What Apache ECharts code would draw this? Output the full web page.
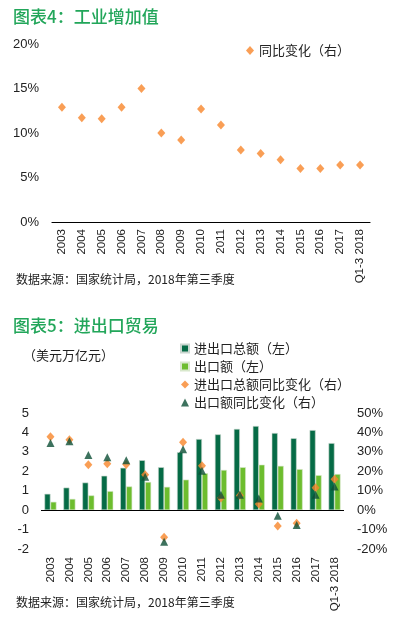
<!DOCTYPE html>
<html>
<head>
<meta charset="utf-8">
<script src="https://cdn.jsdelivr.net/npm/echarts@6/dist/echarts.min.js"></script>
<style>
html,body{margin:0;padding:0;background:#fff;}
#c{width:394px;height:618px;}
</style>
</head>
<body>
<div id="c"></div>
<script>
// ---- data ----
const categories = ['2003','2004','2005','2006','2007','2008','2009','2010','2011','2012','2013','2014','2015','2016','2017','Q1-3 2018'];
// Chart 4: industrial value added, YoY %
const ivaGrowth = [12.9, 11.7, 11.6, 12.9, 15.0, 10.0, 9.2, 12.7, 10.9, 8.1, 7.7, 7.0, 6.0, 6.0, 6.4, 6.4];
// Chart 5: trade, USD trillion
const tradeTotal = [0.84, 1.16, 1.42, 1.77, 2.18, 2.57, 2.21, 2.98, 3.66, 3.90, 4.18, 4.33, 3.97, 3.70, 4.12, 3.45];
const exportValue = [0.43, 0.58, 0.76, 0.98, 1.22, 1.45, 1.20, 1.57, 1.90, 2.07, 2.21, 2.34, 2.28, 2.11, 1.80, 1.86];
// YoY %
const tradeGrowth = [37.8, 36.2, 23.4, 23.9, 23.5, 18.2, -13.9, 35.0, 22.8, 6.2, 7.6, 3.2, -8.2, -6.8, 11.5, 15.9];
const exportGrowth = [34.6, 35.4, 28.4, 27.2, 25.7, 17.2, -16.3, 31.3, 20.3, 7.9, 7.9, 6.0, -2.9, -7.7, 7.9, 12.2];
const leftTicks = {min: -2, max: 5, interval: 1};
const rightTicks = {min: -20, max: 50, interval: 10};

// ---- style ----
const NUM_FONT = '"Liberation Sans Narrow", "Liberation Sans", sans-serif';
const CJK_FONT = '"Noto Sans CJK SC", sans-serif';
const TITLE_GREEN = '#22a65a';
const DARK = '#066b46';
const LIGHT = '#6dbd2e';
const ORANGE = '#f7862b';
const TRI = '#0c4f36';

const chart = echarts.init(document.getElementById('c'), null, {renderer: 'canvas'});

const zeroLine = {
  silent: true, symbol: 'none', label: {show: false},
  lineStyle: {color: '#000', width: 1.2, type: 'solid'},
  emphasis: {disabled: true},
  data: [{yAxis: 0}]
};

const option = {
  backgroundColor: '#fff',
  animation: false,
  textStyle: {fontFamily: CJK_FONT},
  graphic: [
    {type: 'text', x: 13, y: 17, style: {text: '图表4：工业增加值', font: '500 17px ' + CJK_FONT, fill: TITLE_GREEN, verticalAlign: 'middle'}},
    {type: 'text', x: 16, y: 279, style: {text: '数据来源：国家统计局，2018年第三季度', font: '12px ' + CJK_FONT, fill: '#222', verticalAlign: 'middle'}},
    {type: 'text', x: 13, y: 326, style: {text: '图表5：进出口贸易', font: '500 17px ' + CJK_FONT, fill: TITLE_GREEN, verticalAlign: 'middle'}},
    {type: 'text', x: 23, y: 355, style: {text: '（美元万亿元）', font: '13px ' + CJK_FONT, fill: '#222', verticalAlign: 'middle'}},
    {type: 'text', x: 16, y: 602, style: {text: '数据来源：国家统计局，2018年第三季度', font: '12px ' + CJK_FONT, fill: '#222', verticalAlign: 'middle'}}
  ],
  legend: [
    {
      left: 241, top: 39, itemWidth: 8, itemHeight: 9,
      textStyle: {fontSize: 13, color: '#222', fontFamily: CJK_FONT},
      data: [{name: '同比变化（右）', icon: 'diamond'}]
    },
    {
      orient: 'vertical', left: 175, top: 337, itemWidth: 8, itemHeight: 8, itemGap: 5,
      textStyle: {fontSize: 13, color: '#222', fontFamily: CJK_FONT},
      data: [
        {name: '进出口总额（左）', icon: 'rect'},
        {name: '出口额（左）', icon: 'rect'},
        {name: '进出口总额同比变化（右）', icon: 'diamond'},
        {name: '出口额同比变化（右）', icon: 'triangle'}
      ]
    }
  ],
  grid: [
    {left: 52, right: 24, top: 44, bottom: 396},
    {left: 41, right: 50, top: 413, bottom: 69}
  ],
  xAxis: [
    {
      gridIndex: 0, type: 'category', data: categories, boundaryGap: true,
      axisLine: {show: true, lineStyle: {color: '#000', width: 1.2}},
      axisTick: {show: false},
      axisLabel: {rotate: 90, margin: 7, fontSize: 11.5, color: '#222', fontFamily: NUM_FONT, interval: 0}
    },
    {
      gridIndex: 1, type: 'category', data: categories, boundaryGap: true,
      axisLine: {show: false},
      axisTick: {show: false},
      axisLabel: {rotate: 90, margin: 8, fontSize: 11.5, color: '#222', fontFamily: NUM_FONT, interval: 0}
    }
  ],
  yAxis: [
    {
      gridIndex: 0, type: 'value', min: 0, max: 20, interval: 5,
      axisLine: {show: false}, axisTick: {show: false}, splitLine: {show: false},
      axisLabel: {formatter: '{value}%', margin: 13, fontSize: 13, color: '#222', fontFamily: NUM_FONT}
    },
    {
      gridIndex: 1, type: 'value', min: leftTicks.min, max: leftTicks.max, interval: leftTicks.interval,
      axisLine: {show: false}, axisTick: {show: false}, splitLine: {show: false},
      axisLabel: {margin: 12, fontSize: 13, color: '#222', fontFamily: NUM_FONT}
    },
    {
      gridIndex: 1, type: 'value', position: 'right', min: rightTicks.min, max: rightTicks.max, interval: rightTicks.interval,
      axisLine: {show: false}, axisTick: {show: false}, splitLine: {show: false},
      axisLabel: {formatter: '{value}%', margin: 13, fontSize: 13, color: '#222', fontFamily: NUM_FONT}
    }
  ],
  series: [
    {
      name: '同比变化（右）', type: 'scatter', xAxisIndex: 0, yAxisIndex: 0,
      data: ivaGrowth, symbol: 'diamond', symbolSize: [8, 9],
      itemStyle: {color: ORANGE}
    },
    {
      name: '进出口总额（左）', type: 'bar', xAxisIndex: 1, yAxisIndex: 1,
      data: tradeTotal, barWidth: 6, barGap: '0%',
      itemStyle: {color: DARK, borderColor: '#c9d6cf', borderWidth: 0.6},
      markLine: zeroLine
    },
    {
      name: '出口额（左）', type: 'bar', xAxisIndex: 1, yAxisIndex: 1,
      data: exportValue, barWidth: 6, barGap: '0%',
      itemStyle: {color: LIGHT, borderColor: '#d8e8cc', borderWidth: 0.6}
    },
    {
      name: '进出口总额同比变化（右）', type: 'scatter', xAxisIndex: 1, yAxisIndex: 2,
      data: tradeGrowth, symbol: 'diamond', symbolSize: [8, 9],
      itemStyle: {color: ORANGE}, z: 3
    },
    {
      name: '出口额同比变化（右）', type: 'scatter', xAxisIndex: 1, yAxisIndex: 2,
      data: exportGrowth, symbol: 'triangle', symbolSize: [8, 8],
      itemStyle: {color: TRI}, z: 4
    }
  ]
};
chart.setOption(option);
</script>
</body>
</html>
